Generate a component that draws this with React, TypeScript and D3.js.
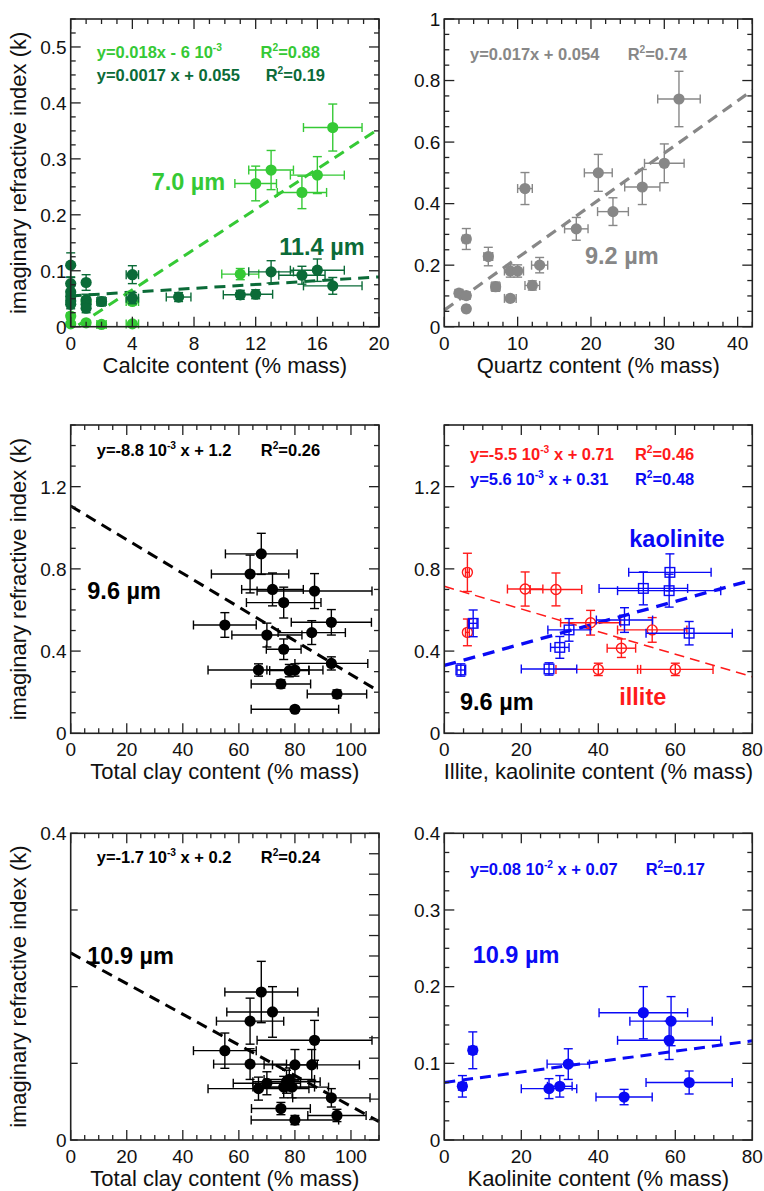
import React from "react";
import * as d3 from "d3";

type Pt = [number, number, number, number]; // x, k, xErr, kErr

// ---- Panel (a): calcite ----
const calcite70: Pt[] = [
  [17, 0.356, 1.9, 0.042], [13, 0.28, 1.45, 0.035], [12, 0.256, 1.35, 0.031],
  [15, 0.24, 1.6, 0.029], [16, 0.271, 1.75, 0.033], [11, 0.094, 1.2, 0.01],
  [0, 0.019, 0, 0.006], [0, 0.005, 0, 0.004], [1, 0.007, 0, 0.004],
  [1, 0.045, 0, 0.008], [2, 0.004, 0.3, 0.003], [4, 0.005, 0.4, 0.003],
  [4, 0.045, 0.4, 0.006],
];
const calcite114: Pt[] = [
  [0, 0.11, 0, 0.022], [0, 0.077, 0, 0.012], [0, 0.062, 0, 0.01], [0, 0.054, 0, 0.01],
  [0, 0.046, 0, 0.008], [0, 0.04, 0, 0.008], [1, 0.079, 0, 0.014], [1, 0.048, 0, 0.01],
  [1, 0.04, 0, 0.008], [1, 0.033, 0, 0.008], [2, 0.045, 0.3, 0.008], [4, 0.093, 0.4, 0.016],
  [4, 0.051, 0.4, 0.01], [7, 0.053, 0.8, 0.008], [11, 0.057, 1.1, 0.008], [12, 0.058, 1.1, 0.008],
  [13, 0.098, 1.45, 0.02], [15, 0.092, 1.5, 0.016], [16, 0.101, 1.75, 0.02], [17, 0.073, 1.9, 0.015],
];
// ---- Panel (b): quartz ----
const quartz92: Pt[] = [
  [32, 0.74, 2.9, 0.09], [30, 0.531, 2.7, 0.063], [27, 0.454, 2.4, 0.057], [21, 0.5, 1.9, 0.06],
  [11, 0.449, 1.0, 0.052], [23, 0.374, 2.1, 0.045], [18, 0.318, 1.6, 0.037], [3, 0.285, 0.5, 0.034],
  [6, 0.228, 0.6, 0.03], [13, 0.2, 1.1, 0.025], [9, 0.181, 0.8, 0.02], [10, 0.181, 0.8, 0.02],
  [12, 0.134, 1.0, 0.015], [7, 0.13, 0.6, 0.015], [9, 0.092, 0.8, 0.01], [2, 0.109, 0.5, 0.01],
  [3, 0.101, 0.5, 0.01], [3, 0.058, 0.4, 0.008],
];
// ---- Panel (c): total clay 9.6 ----
const clay96: Pt[] = [
  [68, 0.873, 12.8, 0.1], [64, 0.775, 13.8, 0.092], [72, 0.7, 11, 0.08], [87, 0.692, 20.5, 0.085],
  [76, 0.636, 13.3, 0.075], [55, 0.527, 11.2, 0.06], [93, 0.54, 14.3, 0.062], [86, 0.49, 12, 0.058],
  [70, 0.478, 12.5, 0.058], [76, 0.409, 6.2, 0.05], [93, 0.34, 13, 0.032], [67, 0.308, 18, 0.03],
  [78, 0.305, 7, 0.03], [80, 0.308, 10, 0.03], [75, 0.24, 10.6, 0.02], [95, 0.191, 10.6, 0.02],
  [80, 0.117, 15.6, 0.01],
];
// ---- Panel (d): illite / kaolinite 9.6 ----
const illite96: Pt[] = [
  [6, 0.783, 0.5, 0.093], [21, 0.702, 4.6, 0.083], [29, 0.7, 6.7, 0.08], [6, 0.491, 0.5, 0.065],
  [38, 0.538, 7.8, 0.06], [54, 0.503, 9, 0.06], [46, 0.414, 3.7, 0.045], [40, 0.311, 11, 0.03],
  [60, 0.311, 9.8, 0.03],
];
const kaolinite96: Pt[] = [
  [58.6, 0.783, 10.7, 0.09], [51.7, 0.705, 11.5, 0.08], [58.4, 0.694, 13.4, 0.08], [7.5, 0.535, 1, 0.065],
  [46.8, 0.551, 7.3, 0.06], [32.4, 0.503, 5.5, 0.055], [63.6, 0.487, 11.2, 0.057], [30, 0.418, 2.4, 0.053],
  [27.2, 0.313, 7.2, 0.03], [4.3, 0.308, 1, 0.03],
];
// ---- Panel (e): total clay 10.9 ----
const clay109: Pt[] = [
  [68, 0.193, 13, 0.04], [72, 0.167, 16.3, 0.033], [64, 0.155, 12, 0.03], [87, 0.13, 20.5, 0.026],
  [55, 0.1165, 11.2, 0.023], [64, 0.099, 13, 0.02], [80, 0.098, 8, 0.02], [86, 0.098, 17, 0.02],
  [70, 0.074, 12, 0.015], [67, 0.067, 18, 0.015], [77, 0.076, 12, 0.015], [76, 0.069, 11, 0.014],
  [79, 0.069, 13, 0.014], [78, 0.079, 9, 0.015], [93, 0.055, 13.8, 0.012], [75, 0.041, 10.5, 0.008],
  [95, 0.032, 10.4, 0.008], [80, 0.026, 15.6, 0.006],
];
// ---- Panel (f): kaolinite 10.9 ----
const kaolinite109: Pt[] = [
  [51.7, 0.166, 11.5, 0.034], [58.9, 0.155, 10.7, 0.032], [58.4, 0.13, 13.4, 0.025], [7.4, 0.117, 1, 0.024],
  [32.2, 0.099, 5.5, 0.02], [4.7, 0.07, 1, 0.014], [27.2, 0.067, 7.2, 0.013], [30, 0.07, 3.2, 0.014],
  [46.7, 0.056, 7.3, 0.01], [63.6, 0.075, 11.2, 0.015],
];

// fit lines: [intercept, slope, xStart, xEnd]
const fitCalcite70 = [-0.006, 0.018, 0.5, 20];
const fitCalcite114 = [0.055, 0.0017, 0, 20];
const fitQuartz = [0.054, 0.017, 0, 42];
const fitClay96 = [1.106, -0.0082, 0, 110];
const fitIllite96 = [0.715, -0.0055, 0, 80];
const fitKaol96 = [0.33, 0.0052, 0, 80];
const fitClay109 = [0.244, -0.002, 0, 110];
const fitKaol109 = [0.075, 0.00068, 0, 80];

const FONT = "'Liberation Sans', Arial, Helvetica, sans-serif";
const LGREEN = "#35c935";
const DGREEN = "#0b6b38";
const GRAY = "#878787";
const RED = "#ff1a1a";
const BLUE = "#0a0af5";
const BLACK = "#000";

type Marker = "filled" | "openCircle" | "openSquare";
interface Series { data: Pt[]; color: string; marker: Marker; r: number }
interface Fit { p: number[]; color: string; width: number; dash: string }
interface Note { text: string; x: number; y: number; color: string; size: number }
interface Axis { domain: [number, number]; minor: number; major: number; labels: number[]; rightStep?: number; noMinor?: boolean }
interface PanelCfg {
  box: [number, number, number, number];
  x: Axis; y: Axis; xTitle: string; yTitle?: string;
  series: Series[]; fits: Fit[]; notes: Note[];
}

const YTITLE = "imaginary refractive index (k)";

function fmt(v: number) { return String(+v.toFixed(4)); }

function RichText({ note, sx, sy }: { note: Note; sx: d3.ScaleLinear<number, number>; sy: d3.ScaleLinear<number, number> }) {
  const parts = note.text.split(/\^\{([^}]*)\}/);
  const children: React.ReactNode[] = [];
  const supShift = note.size * 0.42;
  let raised = false;
  parts.forEach((p, i) => {
    if (p === "") return;
    if (i % 2 === 1) {
      children.push(<tspan key={i} fontSize={note.size * 0.62} dy={-supShift}>{p}</tspan>);
      raised = true;
    } else {
      children.push(<tspan key={i} dy={raised ? supShift : undefined}>{p}</tspan>);
      raised = false;
    }
  });
  return (
    <text x={sx(note.x)} y={sy(note.y)} fill={note.color} fontSize={note.size}
      fontWeight="bold" fontFamily={FONT} style={{ whiteSpace: "pre" }}>
      {children}
    </text>
  );
}

function ticksOf(a: Axis, step: number) {
  const n = Math.round((a.domain[1] - a.domain[0]) / step);
  const out: number[] = [];
  for (let i = 0; i <= n; i++) {
    const v = a.domain[0] + i * step;
    if (v <= a.domain[1] + 1e-9) out.push(+v.toFixed(6));
  }
  return out;
}
const isMajor = (v: number, a: Axis) => Math.abs(v / a.major - Math.round(v / a.major)) < 1e-6;

function Panel({ cfg }: { cfg: PanelCfg }) {
  const [l, t, r, b] = cfg.box;
  const sx = d3.scaleLinear().domain(cfg.x.domain).range([l, r]);
  const sy = d3.scaleLinear().domain(cfg.y.domain).range([b, t]);
  const MAJ = 10, MIN = 5;
  const xt = ticksOf(cfg.x, cfg.x.minor);
  const ytLeft = cfg.y.noMinor ? ticksOf(cfg.y, cfg.y.major) : ticksOf(cfg.y, cfg.y.minor);
  const ytRight = cfg.y.rightStep ? ticksOf(cfg.y, cfg.y.rightStep) : ytLeft;
  const ticks: React.ReactNode[] = [];
  xt.forEach((v, i) => {
    const len = isMajor(v, cfg.x) ? MAJ : MIN;
    const X = sx(v);
    ticks.push(<line key={"xb" + i} x1={X} x2={X} y1={b} y2={b - len} />);
    ticks.push(<line key={"xt" + i} x1={X} x2={X} y1={t} y2={t + len} />);
  });
  ytLeft.forEach((v, i) => {
    const len = cfg.y.noMinor ? 7 : isMajor(v, cfg.y) ? MAJ : MIN;
    const Y = sy(v);
    ticks.push(<line key={"yl" + i} x1={l} x2={l + len} y1={Y} y2={Y} />);
  });
  ytRight.forEach((v, i) => {
    const len = cfg.y.rightStep ? MAJ : isMajor(v, cfg.y) ? MAJ : MIN;
    const Y = sy(v);
    ticks.push(<line key={"yr" + i} x1={r} x2={r - len} y1={Y} y2={Y} />);
  });
  return (
    <g>
      {cfg.fits.map((f, i) => {
        const [a, s, x0, x1] = f.p;
        const path = d3.line<number>().x((x) => sx(x)).y((x) => sy(a + s * x))([x0, x1]) || "";
        return <path key={"f" + i} d={path} stroke={f.color} strokeWidth={f.width} strokeDasharray={f.dash} fill="none" />;
      })}
      {cfg.series.map((s, si) => (
        <g key={"s" + si} stroke={s.color} strokeWidth={1.4}>
          {s.data.map((d, i) => {
            const X = sx(d[0]), Y = sy(d[1]);
            const cap = 4.5;
            const el: React.ReactNode[] = [];
            if (d[2] > 0) {
              const xa = sx(d[0] - d[2]), xb = sx(d[0] + d[2]);
              el.push(<line key="h" x1={xa} x2={xb} y1={Y} y2={Y} />);
              el.push(<line key="hc1" x1={xa} x2={xa} y1={Y - cap} y2={Y + cap} />);
              el.push(<line key="hc2" x1={xb} x2={xb} y1={Y - cap} y2={Y + cap} />);
            }
            if (d[3] > 0) {
              const ya = sy(d[1] - d[3]), yb = sy(d[1] + d[3]);
              el.push(<line key="v" x1={X} x2={X} y1={ya} y2={yb} />);
              el.push(<line key="vc1" x1={X - cap} x2={X + cap} y1={ya} y2={ya} />);
              el.push(<line key="vc2" x1={X - cap} x2={X + cap} y1={yb} y2={yb} />);
            }
            if (s.marker === "filled") el.push(<circle key="m" cx={X} cy={Y} r={s.r} fill={s.color} stroke="none" />);
            else if (s.marker === "openCircle") el.push(<circle key="m" cx={X} cy={Y} r={s.r} fill="none" />);
            else el.push(<rect key="m" x={X - s.r} y={Y - s.r} width={2 * s.r} height={2 * s.r} fill="none" />);
            return <g key={i}>{el}</g>;
          })}
        </g>
      ))}
      <g stroke="#222" strokeWidth={1.3}>{ticks}</g>
      <rect x={l} y={t} width={r - l} height={b - t} fill="none" stroke="#222" strokeWidth={1.6} />
      {cfg.x.labels.map((v, i) => (
        <text key={"xl" + i} x={sx(v)} y={b + 23} textAnchor="middle" fontSize={19} fontFamily={FONT} fill="#111">{fmt(v)}</text>
      ))}
      {cfg.y.labels.map((v, i) => (
        <text key={"yl" + i} x={l - 4} y={sy(v)} dy="0.36em" textAnchor="end" fontSize={19} fontFamily={FONT} fill="#111">{fmt(v)}</text>
      ))}
      <text x={(l + r) / 2} y={b + 46} textAnchor="middle" fontSize={22} fontFamily={FONT} fill="#111">{cfg.xTitle}</text>
      {cfg.yTitle && (
        <text transform={`translate(26,${(t + b) / 2}) rotate(-90)`} textAnchor="middle" fontSize={22} fontFamily={FONT} fill="#111">{cfg.yTitle}</text>
      )}
      {cfg.notes.map((n, i) => <RichText key={"n" + i} note={n} sx={sx} sy={sy} />)}
    </g>
  );
}

const EQ = 16.5;
const BIG = 23.5;

const panels: PanelCfg[] = [
  {
    box: [70.7, 19, 379, 326.7],
    x: { domain: [0, 20], minor: 1, major: 4, labels: [0, 4, 8, 12, 16, 20] },
    y: { domain: [0, 0.55], minor: 0.025, major: 0.1, labels: [0, 0.1, 0.2, 0.3, 0.4, 0.5] },
    xTitle: "Calcite content (% mass)", yTitle: YTITLE,
    series: [
      { data: calcite70, color: LGREEN, marker: "filled", r: 5.6 },
      { data: calcite114, color: DGREEN, marker: "filled", r: 5.6 },
    ],
    fits: [
      { p: fitCalcite114, color: DGREEN, width: 3, dash: "11,7" },
      { p: fitCalcite70, color: LGREEN, width: 3, dash: "11,7" },
    ],
    notes: [
      { text: "y=0.018x - 6 10^{-3}", x: 1.69, y: 0.4796, color: LGREEN, size: EQ },
      { text: "R^{2}=0.88", x: 12.32, y: 0.4796, color: LGREEN, size: EQ },
      { text: "y=0.0017 x + 0.055", x: 1.69, y: 0.439, color: DGREEN, size: EQ },
      { text: "R^{2}=0.19", x: 12.65, y: 0.439, color: DGREEN, size: EQ },
      { text: "7.0 µm", x: 5.25, y: 0.2443, color: LGREEN, size: BIG },
      { text: "11.4 µm", x: 13.53, y: 0.128, color: DGREEN, size: BIG },
    ],
  },
  {
    box: [444.3, 19, 752.3, 326.7],
    x: { domain: [0, 42], minor: 2, major: 10, labels: [0, 10, 20, 30, 40] },
    y: { domain: [0, 1], minor: 0.05, major: 0.2, labels: [0, 0.2, 0.4, 0.6, 0.8, 1] },
    xTitle: "Quartz content (% mass)",
    series: [{ data: quartz92, color: GRAY, marker: "filled", r: 5.6 }],
    fits: [{ p: fitQuartz, color: GRAY, width: 3.2, dash: "11,7" }],
    notes: [
      { text: "y=0.017x + 0.054", x: 3.5, y: 0.8668, color: GRAY, size: EQ },
      { text: "R^{2}=0.74", x: 25.0, y: 0.8668, color: GRAY, size: EQ },
      { text: "9.2 µm", x: 19.19, y: 0.2038, color: GRAY, size: BIG },
    ],
  },
  {
    box: [70.7, 425, 379, 733.3],
    x: { domain: [0, 110], minor: 5, major: 20, labels: [0, 20, 40, 60, 80, 100] },
    y: { domain: [0, 1.5], minor: 0.1, major: 0.4, labels: [0, 0.4, 0.8, 1.2] },
    xTitle: "Total clay content (% mass)", yTitle: YTITLE,
    series: [{ data: clay96, color: BLACK, marker: "filled", r: 5.6 }],
    fits: [{ p: fitClay96, color: BLACK, width: 3, dash: "11,7" }],
    notes: [
      { text: "y=-8.8 10^{-3} x + 1.2", x: 9.28, y: 1.349, color: BLACK, size: EQ },
      { text: "R^{2}=0.26", x: 67.8, y: 1.349, color: BLACK, size: EQ },
      { text: "9.6 µm", x: 5.92, y: 0.6535, color: BLACK, size: BIG },
    ],
  },
  {
    box: [444.3, 425, 752.3, 733.3],
    x: { domain: [0, 80], minor: 5, major: 20, labels: [0, 20, 40, 60, 80] },
    y: { domain: [0, 1.5], minor: 0.1, major: 0.4, labels: [0, 0.4, 0.8, 1.2] },
    xTitle: "Illite, kaolinite content (% mass)",
    series: [
      { data: illite96, color: RED, marker: "openCircle", r: 5 },
      { data: kaolinite96, color: BLUE, marker: "openSquare", r: 4.8 },
    ],
    fits: [
      { p: fitIllite96, color: RED, width: 1.5, dash: "10,6" },
      { p: fitKaol96, color: BLUE, width: 3.4, dash: "12,8" },
    ],
    notes: [
      { text: "y=-5.5 10^{-3} x + 0.71", x: 6.68, y: 1.33, color: RED, size: EQ },
      { text: "R^{2}=0.46", x: 49.5, y: 1.33, color: RED, size: EQ },
      { text: "y=5.6 10^{-3} x + 0.31", x: 6.68, y: 1.208, color: BLUE, size: EQ },
      { text: "R^{2}=0.48", x: 49.5, y: 1.208, color: BLUE, size: EQ },
      { text: "kaolinite", x: 48.05, y: 0.908, color: BLUE, size: BIG },
      { text: "illite", x: 45.45, y: 0.1377, color: RED, size: BIG },
      { text: "9.6 µm", x: 4.08, y: 0.1134, color: BLACK, size: BIG },
    ],
  },
  {
    box: [70.7, 833.3, 379, 1140],
    x: { domain: [0, 110], minor: 5, major: 20, labels: [0, 20, 40, 60, 80, 100] },
    y: { domain: [0, 0.4], minor: 0.1, major: 0.1, labels: [0, 0.4], rightStep: 0.4 / 15, noMinor: true },
    xTitle: "Total clay content (% mass)", yTitle: YTITLE,
    series: [{ data: clay109, color: BLACK, marker: "filled", r: 5.6 }],
    fits: [{ p: fitClay109, color: BLACK, width: 3, dash: "11,7" }],
    notes: [
      { text: "y=-1.7 10^{-3} x + 0.2", x: 9.28, y: 0.361, color: BLACK, size: EQ },
      { text: "R^{2}=0.24", x: 67.8, y: 0.361, color: BLACK, size: EQ },
      { text: "10.9 µm", x: 5.92, y: 0.2296, color: BLACK, size: BIG },
    ],
  },
  {
    box: [444.3, 833.3, 752.3, 1140],
    x: { domain: [0, 80], minor: 5, major: 20, labels: [0, 20, 40, 60, 80] },
    y: { domain: [0, 0.4], minor: 0.025, major: 0.1, labels: [0, 0.1, 0.2, 0.3, 0.4] },
    xTitle: "Kaolinite content (% mass)",
    series: [{ data: kaolinite109, color: BLUE, marker: "filled", r: 5.6 }],
    fits: [{ p: fitKaol109, color: BLUE, width: 3, dash: "11,7" }],
    notes: [
      { text: "y=0.08 10^{-2} x + 0.07", x: 6.68, y: 0.3456, color: BLUE, size: EQ },
      { text: "R^{2}=0.17", x: 52.3, y: 0.3456, color: BLUE, size: EQ },
      { text: "10.9 µm", x: 7.38, y: 0.2305, color: BLUE, size: BIG },
    ],
  },
];

export default function App() {
  return (
    <svg width={764} height={1191} style={{ position: "absolute", left: 0, top: 0, background: "#fff" }}>
      <rect x={0} y={0} width={764} height={1191} fill="#fff" />
      {panels.map((p, i) => <Panel key={i} cfg={p} />)}
    </svg>
  );
}
